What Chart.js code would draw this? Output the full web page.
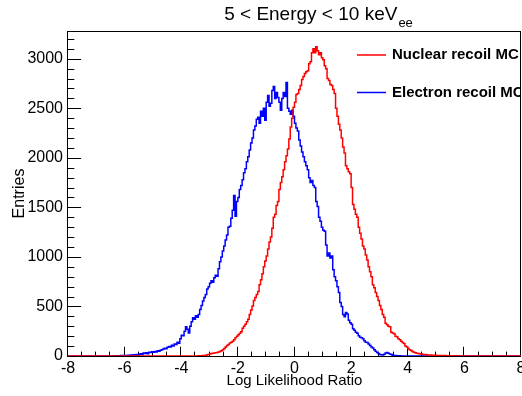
<!DOCTYPE html>
<html><head><meta charset="utf-8">
<script src="https://cdn.jsdelivr.net/npm/chart.js@4.4.0/dist/chart.umd.min.js"></script>
<style>html,body{margin:0;padding:0;background:#fff;overflow:hidden}canvas{display:block}</style>
</head><body>
<canvas id="c" width="522" height="396"></canvas>
<script>
// ---- data ----
const binLow = -8, binHigh = 8, binWidth = 0.05;
const xTickLabels = [-8, -6, -4, -2, 0, 2, 4, 6, 8];
const yTickLabels = [0, 500, 1000, 1500, 2000, 2500, 3000];
const seriesNames = ['Nuclear recoil MC', 'Electron recoil MC'];
const seriesColors = ['#ff0000', '#0000ff'];
const titleMain = '5 < Energy < 10 keV';
const titleSub = 'ee';
const xTitle = 'Log Likelihood Ratio';
const yTitle = 'Entries';

// one row per unit of x (20 bins of 0.05)
const nuclear = [
  0,0,0,0,0,0,0,0,0,0, 0,0,0,0,0,0,0,0,0,0,
  0,0,0,0,0,0,0,0,0,0, 0,0,0,0,0,0,0,0,0,0,
  0,0,0,0,0,0,0,0,0,0, 0,0,0,0,0,0,0,0,0,0,
  0,0,0,0,0,0,0,0,0,0, 0,0,0,0,0,0,0,0,0,0,
  0,0,0,0,0,0,0,0,0,0, 0,1,2,1,3,4,6,8,12,16,
  20,24,27,30,32,35,40,45,52,62, 75,90,105,115,130,140,150,165,185,200,
  215,230,245,280,300,320,345,370,420,465, 505,560,590,620,650,720,770,830,900,960,
  1010,1080,1150,1200,1290,1400,1430,1520,1560,1680, 1750,1810,1880,1960,2020,2090,2190,2310,2400,2510,
  2560,2640,2650,2690,2730,2790,2820,2850,2870,2880, 2950,2970,3060,3100,3060,3120,3080,3040,3060,3010,
  2990,2930,2900,2800,2780,2740,2730,2690,2650,2500, 2420,2340,2280,2200,2110,2050,1920,1890,1860,1840,
  1700,1530,1480,1430,1400,1300,1240,1180,1110,1080, 1020,970,900,850,800,720,690,640,600,560,
  510,470,420,390,330,315,300,295,240,232, 225,200,195,175,165,150,135,125,100,90,
  75,62,55,45,38,32,28,24,22,20, 18,16,14,12,11,10,9,8,8,7,
  6,6,5,5,4,4,4,3,3,3, 2,2,2,1,1,1,1,0,1,0,
  0,0,0,0,0,0,0,0,0,0, 0,0,0,0,0,0,0,0,0,0,
  0,0,0,0,0,0,0,0,0,0, 0,0,0,0,0,0,0,0,0,0
];
const electron = [
  0,0,0,0,0,0,0,0,0,0, 0,0,0,0,0,0,0,0,0,0,
  0,0,0,0,0,0,0,0,0,0, 0,1,0,2,1,3,2,4,3,5,
  4,6,8,5,9,7,12,10,14,11, 17,22,15,30,26,34,22,38,35,42,
  39,45,41,52,48,58,63,70,78,74, 88,95,90,108,102,120,115,140,128,175,
  210,205,250,295,270,232,300,345,385,370, 405,390,420,470,510,555,590,620,675,700,
  735,760,745,790,815,805,880,950,1000,1060, 1110,1170,1220,1300,1310,1390,1470,1620,1410,1560,
  1600,1680,1720,1780,1850,1890,1960,2010,2080,2150, 2200,2280,2320,2390,2410,2350,2470,2420,2500,2380,
  2560,2630,2520,2550,2680,2720,2600,2660,2610,2560, 2480,2600,2660,2620,2760,2500,2470,2440,2480,2420,
  2350,2300,2270,2180,2120,2060,2010,1960,1920,1880, 1800,1750,1770,1720,1700,1560,1510,1400,1360,1300,
  1270,1260,1120,1010,1040,990,1010,870,800,760, 700,640,540,500,420,395,440,425,360,335,
  320,275,260,240,230,205,190,185,175,155, 140,135,120,105,90,80,62,48,35,25,
  15,12,10,18,30,35,28,20,14,8, 5,4,3,2,2,1,1,0,1,0,
  0,0,0,0,0,0,0,0,0,0, 0,0,0,0,0,0,0,0,0,0,
  0,0,0,0,0,0,0,0,0,0, 0,0,0,0,0,0,0,0,0,0,
  0,0,0,0,0,0,0,0,0,0, 0,0,0,0,0,0,0,0,0,0,
  0,0,0,0,0,0,0,0,0,0, 0,0,0,0,0,0,0,0,0,0
];

// ---- build step points (left bin edges + final edge) ----
function toSteps(vals) {
  const pts = vals.map((v, i) => ({ x: binLow + i * binWidth, y: v }));
  pts.push({ x: binHigh, y: vals[vals.length - 1] });
  return pts;
}

const F = '"Liberation Sans", Arial, Helvetica, sans-serif';

const framePlugin = {
  id: 'frame',
  beforeDatasetsDraw(chart) {
    const { ctx, chartArea: ca, scales: { x, y } } = chart;
    ctx.save();
    ctx.strokeStyle = '#000';
    ctx.lineWidth = 1;
    const L = Math.round(ca.left) - 0.5, R = Math.round(ca.right) - 0.5;
    const T = Math.round(ca.top) + 0.5, B = Math.round(ca.bottom) + 0.5;
    ctx.strokeRect(L, T, R - L, B - T);
    ctx.beginPath();
    const xMajor = 9.75, xMinor = 4.9, yMajor = 13.6, yMinor = 6.8;
    for (let v = x.min; v <= x.max + 1e-9; v += 0.5) {
      const px = Math.round(x.getPixelForValue(v)) - 0.5;
      const len = xTickLabels.includes(Math.round(v * 100) / 100) ? xMajor : xMinor;
      ctx.moveTo(px, B); ctx.lineTo(px, B - len);
    }
    for (let v = y.min; v <= y.max + 1e-9; v += 100) {
      const py = Math.round(y.getPixelForValue(v)) + 0.5;
      const len = yTickLabels.includes(v) ? yMajor : yMinor;
      ctx.moveTo(L, py); ctx.lineTo(L + len, py);
    }
    ctx.stroke();
    ctx.restore();
  }
};

const overlayPlugin = {
  id: 'overlay',
  afterDraw(chart) {
    const { ctx } = chart;
    ctx.save();
    // title with subscript
    ctx.fillStyle = '#000';
    ctx.textBaseline = 'alphabetic';
    ctx.font = '19px ' + F;
    const w1 = ctx.measureText(titleMain).width;
    ctx.font = '13px ' + F;
    const w2 = ctx.measureText(titleSub).width;
    const x0 = 318 - (w1 + w2) / 2;
    ctx.font = '19px ' + F;
    ctx.fillText(titleMain, x0, 20);
    ctx.font = '13px ' + F;
    ctx.fillText(titleSub, x0 + w1 + 1, 26.5);
    // legend
    ctx.beginPath(); ctx.rect(0, 0, 520, 396); ctx.clip();
    const rows = [55, 92.5];
    chart.data.datasets.forEach((ds, i) => {
      ctx.strokeStyle = ds.borderColor;
      ctx.lineWidth = 1.5;
      ctx.beginPath(); ctx.moveTo(357, rows[i]); ctx.lineTo(386, rows[i]); ctx.stroke();
      ctx.fillStyle = '#000';
      ctx.font = 'bold 15px ' + F;
      ctx.textBaseline = 'middle';
      ctx.fillText(ds.label, 392, rows[i]);
    });
    ctx.restore();
  }
};

new Chart(document.getElementById('c'), {
  type: 'line',
  data: {
    datasets: [
      { label: seriesNames[0], data: toSteps(nuclear), borderColor: seriesColors[0], borderWidth: 1.5, stepped: 'before', pointRadius: 0, fill: false },
      { label: seriesNames[1], data: toSteps(electron), borderColor: seriesColors[1], borderWidth: 1.5, stepped: 'before', pointRadius: 0, fill: false }
    ]
  },
  options: {
    responsive: false,
    animation: false,
    devicePixelRatio: 1,
    layout: { autoPadding: false, padding: { left: 0, right: 1, top: 31, bottom: 0 } },
    plugins: { legend: { display: false }, tooltip: { enabled: false }, title: { display: false } },
    elements: { point: { radius: 0 }, line: { tension: 0 } },
    scales: {
      x: {
        type: 'linear', min: binLow, max: binHigh,
        afterBuildTicks: s => { s.ticks = xTickLabels.map(v => ({ value: v })); },
        afterFit: s => { s.height = 40; s.paddingLeft = 0; s.paddingRight = 0; },
        ticks: { color: '#000', font: { family: F, size: 16 }, padding: 3, maxRotation: 0, autoSkip: false, callback: v => String(v) },
        grid: { display: false, drawTicks: false },
        border: { display: false },
        title: { display: true, text: xTitle, color: '#000', font: { family: F, size: 15 }, padding: { top: 6, bottom: 6 } }
      },
      y: {
        type: 'linear', min: 0, max: 3280,
        afterBuildTicks: s => { s.ticks = yTickLabels.map(v => ({ value: v })); },
        afterFit: s => { s.width = 68; s.paddingTop = 0; s.paddingBottom = 0; },
        ticks: { color: '#000', font: { family: F, size: 16 }, padding: 5, callback: v => String(v) },
        grid: { display: false, drawTicks: false },
        border: { display: false },
        title: { display: true, text: yTitle, color: '#000', font: { family: F, size: 16 }, padding: { top: 10, bottom: 10 } }
      }
    }
  },
  plugins: [framePlugin, overlayPlugin]
});
</script>
</body></html>
